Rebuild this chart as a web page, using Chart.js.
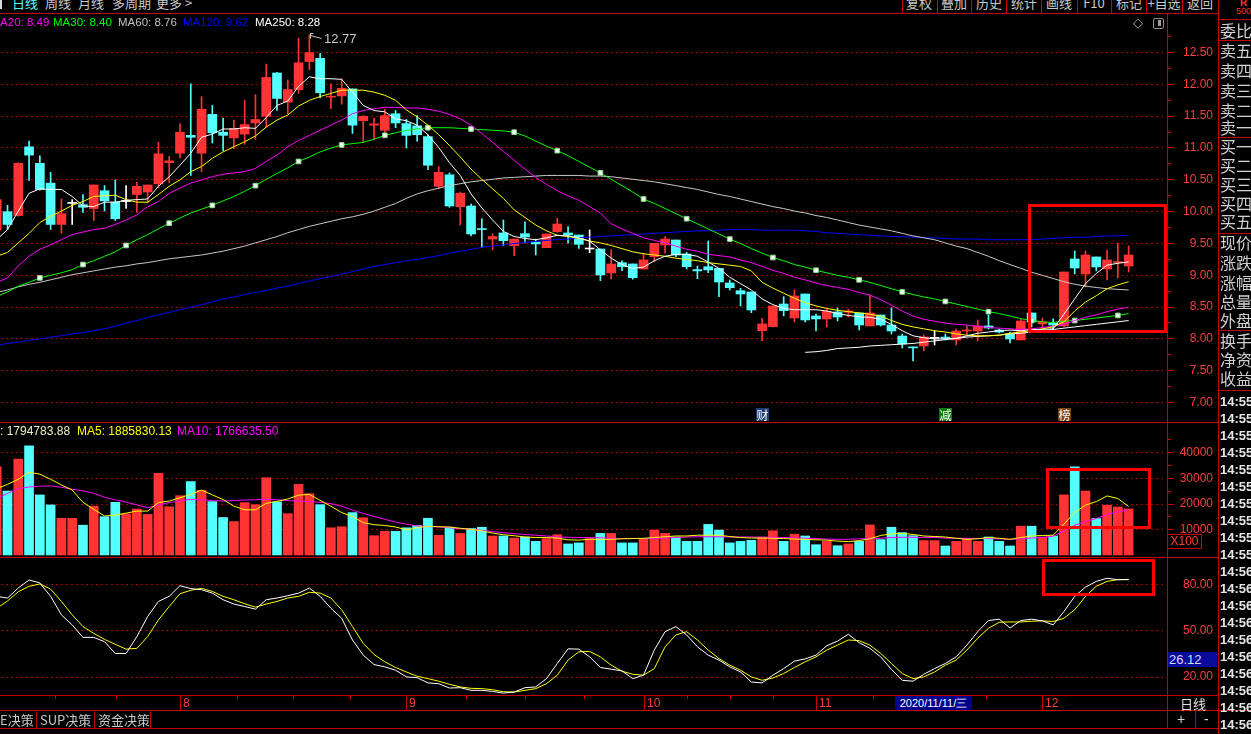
<!DOCTYPE html>
<html><head><meta charset="utf-8"><title>K线</title>
<script src="https://cdn.jsdelivr.net/npm/chart.js@4.4.1/dist/chart.umd.min.js"></script>
<style>
html,body{margin:0;padding:0;background:#000;}
body{width:1251px;height:734px;overflow:hidden;position:relative;font-family:"Liberation Sans",Arial,sans-serif;}
canvas{position:absolute;}
</style></head>
<body>
<canvas id="cPrice" width="1217" height="409" style="left:0;top:14px"></canvas>
<canvas id="cVol" width="1217" height="134" style="left:0;top:423px"></canvas>
<canvas id="cKdj" width="1217" height="154" style="left:0;top:557px"></canvas>
<script>
// ================= DATA (bar index i = 0..105) =================
const opens = [9.70,
 9.99,9.93,11.01,10.75,10.44,9.79,10.12,10.10,10.04,10.32,
 10.14,10.15,10.26,10.30,10.43,10.76,10.91,11.19,10.91,11.52,
 11.24,11.15,11.21,11.385,11.49,12.17,11.71,11.91,12.35,12.40,
 11.79,11.81,11.92,11.42,11.35,11.27,11.53,11.375,11.34,11.17,
 10.39,10.57,10.07,10.08,9.72,9.56,9.656,9.456,9.645,9.515,
 9.425,9.676,9.656,9.624,9.404,9.404,9.027,9.189,9.169,9.09,
 9.283,9.467,9.546,9.326,9.08,9.126,9.10,8.87,8.749,8.729,
 8.121,8.183,8.54,8.32,8.697,8.352,8.305,8.415,8.41,8.399,
 8.195,8.367,8.21,8.037,7.865,7.88,8.0,8.02,7.975,8.116,
 8.116,8.195,8.131,8.069,7.975,8.399,8.226,8.241,8.195,9.247,
 9.012,9.279,9.09,9.19,9.137];
const highs = [10.20,
 10.09,10.76,11.10,10.87,10.61,10.19,10.18,10.26,10.41,10.40,
 10.49,10.40,10.45,10.41,11.08,10.86,11.37,12.00,11.80,11.66,
 11.46,11.43,11.74,11.83,12.31,12.18,12.06,12.72,12.77,12.48,
 12.00,12.08,11.92,11.50,11.46,11.60,11.58,11.44,11.50,11.20,
 10.70,10.60,10.30,10.11,9.88,9.645,9.86,9.56,9.83,9.56,
 9.64,9.887,9.755,9.624,9.703,9.404,9.39,9.22,9.169,9.337,
 9.494,9.60,9.546,9.353,9.137,9.53,9.10,8.917,8.787,8.729,
 8.316,8.509,8.655,8.76,8.697,8.383,8.462,8.477,8.46,8.399,
 8.682,8.367,8.477,8.069,7.865,8.053,8.116,8.069,8.147,8.195,
 8.289,8.367,8.147,8.10,8.305,8.399,8.32,8.305,9.043,9.373,
 9.373,9.279,9.389,9.499,9.452];
const lows = [9.62,
 9.71,9.92,10.48,10.33,9.71,9.65,9.79,9.98,9.85,10.00,
 9.85,10.04,9.98,10.13,10.37,10.45,10.84,10.56,10.62,11.07,
 10.95,10.98,11.05,11.13,11.32,11.58,11.53,11.85,12.22,11.78,
 11.61,11.68,11.22,11.09,11.12,11.22,11.31,10.99,11.10,10.65,
 10.35,10.06,9.78,9.61,9.425,9.39,9.456,9.30,9.50,9.31,
 9.425,9.667,9.494,9.415,9.346,8.906,8.933,9.063,8.93,9.09,
 9.205,9.337,9.283,9.09,8.938,9.032,8.655,8.76,8.509,8.404,
 7.963,8.18,8.352,8.257,8.257,8.116,8.179,8.273,8.336,8.132,
 8.195,8.195,8.069,7.849,7.644,7.802,7.896,7.975,7.896,8.053,
 7.96,8.147,8.085,7.927,7.975,8.179,8.163,8.132,8.18,9.012,
 8.807,9.059,8.917,8.949,9.043];
const closes = [10.18,
 9.79,10.75,10.88,10.34,9.79,9.96,10.12,10.06,10.41,10.16,
 9.88,10.15,10.39,10.41,10.90,10.79,11.24,11.16,11.60,11.23,
 11.19,11.30,11.36,11.44,12.10,11.77,11.91,12.33,12.49,11.86,
 11.80,11.93,11.35,11.49,11.37,11.50,11.385,11.19,11.20,10.72,
 10.61,10.08,10.28,9.64,9.71,9.60,9.535,9.56,9.593,9.483,
 9.64,9.797,9.624,9.478,9.404,8.996,9.169,9.126,8.953,9.232,
 9.494,9.56,9.31,9.126,9.06,9.075,8.886,8.796,8.697,8.446,
 8.226,8.509,8.435,8.666,8.289,8.305,8.425,8.336,8.43,8.21,
 8.399,8.21,8.116,7.912,7.85,8.022,8.0,8.0,8.116,8.131,
 8.195,8.163,8.10,7.99,8.273,8.257,8.257,8.21,9.043,9.106,
 9.31,9.122,9.232,9.20,9.31];
const ma5 = [9.55,
 9.71,10.0,10.28,10.35,10.34,10.34,10.23,10.08,10.07,10.14,
 10.14,10.17,10.18,10.19,10.39,10.54,10.72,10.91,11.16,11.21,
 11.29,11.29,11.31,11.30,11.47,11.66,11.73,11.96,12.11,12.08,
 12.08,12.07,11.87,11.66,11.58,11.56,11.45,11.42,11.35,11.2,
 11.0,10.76,10.56,10.27,10.05,9.86,9.68,9.6,9.57,9.55,
 9.58,9.62,9.61,9.58,9.53,9.39,9.26,9.16,9.10,9.12,
 9.22,9.29,9.32,9.32,9.29,9.2,9.10,8.96,8.86,8.76,
 8.62,8.53,8.47,8.45,8.45,8.45,8.43,8.39,8.36,8.34,
 8.33,8.30,8.22,8.12,8.04,8.01,7.99,7.99,8.0,8.04,
 8.08,8.10,8.12,8.13,8.12,8.14,8.14,8.15,8.38,8.62,
 8.86,9.02,9.15,9.18,9.20];
const ma10 = [9.29,
 9.35,9.5,9.65,9.82,9.92,10.0,10.09,10.15,10.23,10.24,
 10.25,10.18,10.14,10.14,10.26,10.39,10.49,10.62,10.70,10.83,
 10.93,11.01,11.09,11.18,11.32,11.43,11.51,11.65,11.74,11.80,
 11.85,11.90,11.90,11.90,11.87,11.82,11.74,11.59,11.48,11.35,
 11.2,11.03,10.85,10.66,10.5,10.35,10.2,10.02,9.9,9.78,
 9.69,9.62,9.60,9.57,9.53,9.5,9.46,9.41,9.36,9.33,
 9.31,9.29,9.26,9.24,9.22,9.19,9.17,9.15,9.13,9.06,
 8.88,8.79,8.71,8.63,8.56,8.51,8.47,8.44,8.42,8.40,
 8.38,8.35,8.28,8.22,8.18,8.15,8.12,8.10,8.07,8.05,
 8.04,8.04,8.05,8.08,8.10,8.12,8.15,8.18,8.26,8.43,
 8.57,8.67,8.78,8.84,8.89];
const ma20 = [8.88,
 8.95,9.14,9.29,9.40,9.47,9.55,9.63,9.67,9.71,9.73,
 9.79,9.86,9.94,10.07,10.15,10.28,10.36,10.44,10.49,10.54,
 10.58,10.60,10.62,10.67,10.78,10.88,11.01,11.11,11.19,11.27,
 11.35,11.43,11.53,11.58,11.61,11.63,11.63,11.62,11.62,11.6,
 11.57,11.52,11.45,11.35,11.22,11.08,10.94,10.8,10.66,10.53,
 10.42,10.32,10.24,10.17,10.07,9.97,9.8,9.72,9.65,9.58,
 9.54,9.5,9.45,9.40,9.37,9.32,9.30,9.28,9.23,9.19,
 9.13,9.07,9.02,8.96,8.92,8.87,8.83,8.80,8.77,8.72,
 8.68,8.61,8.52,8.43,8.35,8.30,8.27,8.24,8.22,8.21,
 8.19,8.17,8.16,8.15,8.14,8.15,8.17,8.19,8.22,8.28,
 8.33,8.37,8.42,8.46,8.49];
const ma30 = [8.66,
 8.73,8.82,8.88,8.95,8.99,9.03,9.08,9.16,9.22,9.29,
 9.36,9.46,9.55,9.63,9.72,9.81,9.89,9.97,10.03,10.09,
 10.16,10.23,10.31,10.40,10.50,10.59,10.68,10.78,10.85,10.93,
 10.99,11.04,11.06,11.08,11.13,11.19,11.23,11.27,11.29,11.31,
 11.31,11.31,11.30,11.29,11.28,11.27,11.26,11.24,11.18,11.1,
 11.02,10.95,10.87,10.78,10.69,10.60,10.50,10.40,10.30,10.19,
 10.12,10.04,9.96,9.88,9.80,9.72,9.64,9.56,9.49,9.41,
 9.34,9.27,9.22,9.16,9.12,9.07,9.03,8.99,8.96,8.92,
 8.88,8.83,8.78,8.73,8.69,8.65,8.62,8.58,8.54,8.50,
 8.46,8.42,8.39,8.35,8.31,8.28,8.26,8.25,8.27,8.28,
 8.30,8.32,8.34,8.36,8.39];
const ma60 = [8.72,
 8.76,8.81,8.85,8.88,8.92,8.96,9.0,9.03,9.06,9.09,
 9.12,9.14,9.17,9.19,9.22,9.25,9.27,9.29,9.31,9.34,
 9.37,9.41,9.45,9.5,9.55,9.6,9.66,9.71,9.76,9.8,
 9.84,9.88,9.91,9.95,10.0,10.06,10.12,10.2,10.27,10.32,
 10.36,10.4,10.43,10.46,10.48,10.5,10.52,10.53,10.54,10.55,
 10.56,10.56,10.56,10.56,10.55,10.55,10.54,10.52,10.50,10.48,
 10.46,10.43,10.4,10.37,10.34,10.3,10.26,10.23,10.19,10.15,
 10.11,10.07,10.04,10.0,9.97,9.93,9.9,9.86,9.82,9.78,
 9.75,9.72,9.69,9.65,9.61,9.58,9.55,9.5,9.45,9.41,
 9.35,9.29,9.22,9.16,9.1,9.04,8.99,8.94,8.89,8.85,
 8.82,8.8,8.78,8.77,8.76];
const ma120 = [7.89,
 7.92,7.94,7.97,7.99,8.02,8.04,8.07,8.09,8.12,8.15,
 8.19,8.24,8.28,8.33,8.37,8.41,8.45,8.49,8.53,8.57,
 8.62,8.65,8.69,8.72,8.75,8.79,8.82,8.86,8.9,8.94,
 8.97,9.01,9.05,9.09,9.13,9.16,9.19,9.22,9.24,9.27,
 9.3,9.34,9.37,9.4,9.43,9.45,9.47,9.49,9.51,9.52,
 9.54,9.55,9.56,9.58,9.59,9.6,9.61,9.62,9.63,9.64,
 9.65,9.66,9.67,9.68,9.69,9.69,9.70,9.71,9.71,9.71,
 9.7,9.7,9.7,9.7,9.69,9.68,9.66,9.65,9.64,9.63,
 9.62,9.61,9.6,9.6,9.59,9.58,9.58,9.57,9.56,9.56,
 9.56,9.55,9.55,9.55,9.55,9.55,9.56,9.57,9.58,9.59,
 9.59,9.6,9.61,9.61,9.62];
const ma250 = Array(75).fill(null).concat([
 7.78,7.79,7.81,7.84,7.85,7.86,7.88,7.89,7.90,7.91,
 7.92,7.94,7.96,7.98,8.0,8.02,8.03,8.04,8.05,8.07,
 8.08,8.10,8.12,8.14,8.16,8.18,8.20,8.22,8.24,8.26,
 8.28]);
const volumes = [34300,
 24900,37400,42500,23400,19500,14300,14300,11600,19000,14900,
 20500,16000,17900,15800,31800,18800,23100,28600,25200,20800,
 14600,13000,20400,19600,30100,20700,16100,27500,23900,19600,
 10600,11000,16500,14500,7500,9200,9200,10600,11500,14300,
 7700,10800,8400,10300,10800,7400,7400,6600,7000,5300,
 6400,7900,4300,4700,6400,8400,8400,4700,4700,6400,
 9700,8400,7000,5300,5300,11900,9700,4700,5300,5700,
 7000,9400,5300,8100,7400,4000,5300,3600,4300,5300,
 11700,6000,10800,8700,7500,5600,5600,3500,5300,6500,
 5300,7000,5300,3500,11200,11200,7000,7400,23400,34300,
 24900,14200,19400,18700,17948];
const volMa5 = [25800,
 27500,29500,32200,31500,29500,27300,25300,20500,17800,15200,
 15500,16300,17100,17100,20400,21000,22300,23600,25300,23400,
 21600,19000,17600,17600,20100,20900,21800,23300,23600,21300,
 19000,16500,15000,12600,11800,11500,10900,9800,10600,11200,
 11000,10900,10400,10000,9400,8500,7900,7500,7000,6800,
 6800,6600,5900,5800,6100,6100,6100,6300,6400,6500,
 6800,7100,7400,7400,7700,7700,7700,7200,6800,6600,
 6600,6500,6400,6200,6100,5900,5800,5400,5200,5600,
 6300,7600,8200,8400,8000,7400,7200,7000,6500,6100,
 6300,6800,6500,6100,6800,7400,7600,7700,12000,16600,
 19400,20800,23000,22000,18858];
const volMa10 = [21900,
 24000,25800,26500,26800,26900,26400,25600,25000,24000,22500,
 21500,20600,19500,18400,19500,20400,21000,21700,21500,21200,
 21000,21200,21400,21500,21700,21500,21200,21000,20800,20500,
 20000,19000,17500,16200,15000,13900,12800,12000,11300,11100,
 10900,10600,10200,10000,9600,9100,8700,8300,8000,7700,
 7400,7000,6900,6800,6800,6700,6500,6400,6400,6400,
 6400,6600,6800,7000,7100,7100,7100,7000,7000,7000,
 6900,6900,6800,6700,6500,6400,6200,6100,6100,6300,
 6400,6500,6800,6900,6900,6800,6800,6600,6500,6500,
 6400,6400,6300,6100,6300,6600,6800,7300,9400,11600,
 13000,14200,15800,16800,17666];
const kdjK = [72,
 70.9,77.4,82.6,80.7,72,60,53.5,45.4,45.4,42.6,
 35,35,45.9,58.9,68.7,72,78.9,77,76.3,74.1,
 69.8,67,65.4,63.7,69.8,70.9,72.4,74.1,77.4,72,
 64.3,57.8,43.7,33.9,27.8,26.3,24.1,19.8,19.3,15.9,
 15.4,12.6,12.8,11.1,11.1,10.4,9.3,10,12.8,13.3,
 18.7,28.5,38,37.8,32.8,25.9,24.8,23.7,18.7,20.9,
 37.2,49.1,52.4,47,39.3,33.9,30.7,26.3,23,16.5,
 15.9,20.9,25.2,30,31.5,33.9,40,43,47.4,42,
 38.3,32.8,24.6,17.6,17,21.5,25.2,28.5,32.8,40.4,
 49.1,56.3,57.2,51.5,56.3,57.2,56.1,53.5,62.2,72,
 78,81.7,83.7,82.8,82.8];
const kdjD = [64.3,
 69,75,78.5,80,76.7,68.7,60,52.4,48,44.1,
 40.9,37.8,38.3,45.9,56.7,65.4,73.7,75.9,77.2,75.2,
 72,69.8,67.2,65,67,68.7,70.9,72,74.6,74.1,
 70.9,63.3,52.4,41.5,34.3,29.6,25.9,23,20.2,18.7,
 17,15,13.3,12.4,12.2,11.5,10.2,10,11.1,12.2,
 15.4,20.9,30.7,36.1,36.3,32.8,27.4,23.5,21.5,20.9,
 25.2,39.3,47,49.1,43.7,37.2,31.7,27.4,24.1,19.8,
 17.6,19.1,22,25.9,29.6,32.8,37.2,40.4,43.7,43.3,
 40.4,35,28.5,22,18.7,19.8,23,27.4,30.7,37.2,
 44.8,51.3,55.2,55.4,55.4,55.9,56.1,55.7,57.8,63.3,
 72,78.5,81.7,82.8,83];

const priceTicks = [12.5,12,11.5,11,10.5,10,9.5,9,8.5,8,7.5,7];
const priceTickLabels = ['12.50','12.00','11.50','11.00','10.50','10.00','9.50','9.00','8.50','8.00','7.50','7.00'];
const priceMinor = [12.75,12.25,11.75,11.25,10.75,10.25,9.75,9.25,8.75,8.25,7.75,7.25];
const volTicks = [40000,30000,20000,10000];
const volTickLabels = ['40000','30000','20000','10000'];
const volMinor = [45000,35000,25000,15000];
const kdjTicks = [80,50,20];
const kdjTickLabels = ['80.00','50.00','20.00'];
const monthLabels = ['8','9','10','11','12'];
const monthStartBars = [17,38,60,76,97];
const quarterTicks = [5.45,11.1,22.25,27.5,32.75,43.5,49,54.5,64,68,72,81.25,86.5,91.75];
const eventMarks = [{i:71,t:'财',bg:'#1c3f73'},{i:88,t:'减',bg:'#0b7a0b'},{i:99,t:'榜',bg:'#7a4511'}];
const priceBox = {i0:95.76,i1:108.4,p0:8.12,p1:10.1};
const volBox = {i0:97.4,i1:106.9,v0:10900,v1:33500};
const kdjBox = {i0:97.1,i1:107.3,v0:73.5,v1:95.5};

// ================= STYLE =================
const RED='#ff3333', CYAN='#54ffff', WHITE='#ffffff';
const AX='#c80000', LBL='#ff3c3c', GRID='#a00000';
const X_MIN=0.304, X_MAX=108.56;
const I = closes.map((_,i)=>i);
const P = a => a.map((v,i)=>({x:i,y:v}));
const candleCol = i => closes[i]>opens[i]?RED:(closes[i]<opens[i]?CYAN:WHITE);
const volCol = i => closes[i]>=opens[i]?RED:CYAN;

Chart.defaults.font.family='"Liberation Sans", Arial, sans-serif';

function opts(ymin,ymax,pb){
  return {responsive:false,animation:false,devicePixelRatio:1,events:[],
    layout:{padding:{left:0,right:50,top:0,bottom:pb||0}},
    plugins:{legend:{display:false},tooltip:{enabled:false}},
    datasets:{bar:{grouped:false}},
    scales:{x:{type:'linear',min:X_MIN,max:X_MAX,display:false,offset:false},
            y:{type:'linear',min:ymin,max:ymax,display:false}}};
}
function lineDS(arr,col,extra){
  return Object.assign({type:'line',data:P(arr),borderColor:col,borderWidth:1,pointRadius:0,
    tension:0,spanGaps:false,fill:false,order:1},extra||{});
}
function dotted(ch,vals){
  const c=ch.ctx, ys=ch.scales.y; c.save(); c.fillStyle=GRID;
  vals.forEach(v=>{const y=Math.round(ys.getPixelForValue(v));
    for(let x=1;x<1165;x+=5) c.fillRect(x,y,2,1);});
  c.restore();
}
function axisLabels(ch,vals,labels,minor,major){
  const c=ch.ctx, ys=ch.scales.y; c.save(); c.fillStyle=AX;
  if(major){vals.forEach(v=>c.fillRect(1168,Math.round(ys.getPixelForValue(v)),6,1));
    (minor||[]).forEach(v=>c.fillRect(1168,Math.round(ys.getPixelForValue(v)),3,1));}
  c.fillStyle=LBL; c.font='12px "Liberation Sans"'; c.textAlign='right'; c.textBaseline='middle';
  vals.forEach((v,j)=>c.fillText(labels[j],1213,ys.getPixelForValue(v)+0.5));
  c.restore();
}
function boxOn(ch,b0,b1,v0,v1){
  const c=ch.ctx, xs=ch.scales.x, ys=ch.scales.y;
  const x0=xs.getPixelForValue(b0), x1=xs.getPixelForValue(b1);
  const y0=ys.getPixelForValue(v1), y1=ys.getPixelForValue(v0);
  c.save(); c.strokeStyle='#ff0000'; c.lineWidth=3;
  c.strokeRect(Math.round(x0)+0.5,Math.round(y0)+0.5,Math.round(x1-x0),Math.round(y1-y0)); c.restore();
}

const pricePlugin={id:'pp',
  beforeDatasetsDraw(ch){dotted(ch,priceTicks);},
  afterDraw(ch){
    const c=ch.ctx, xs=ch.scales.x, ys=ch.scales.y;
    axisLabels(ch,priceTicks,priceTickLabels,priceMinor,true);
    const hi=Math.max(...highs), hiIdx=highs.indexOf(hi);
    const hx=Math.round(xs.getPixelForValue(hiIdx)), hy=Math.round(ys.getPixelForValue(hi));
    c.save(); c.strokeStyle='#c8c8c8'; c.lineWidth=1;
    c.beginPath(); c.moveTo(hx+1.5,hy+0.5); c.lineTo(hx+12.5,hy+3.5); c.stroke();
    c.beginPath(); c.moveTo(hx+1.5,hy+3.5); c.lineTo(hx+1.5,hy-1.5); c.lineTo(hx+4.5,hy-1.5); c.stroke();
    c.fillStyle='#c8c8c8'; c.font='13px "Liberation Sans"'; c.textBaseline='middle'; c.textAlign='left';
    c.fillText(hi.toFixed(2),hx+15,hy+4.5);
    c.font='12px "Noto Sans CJK SC"'; c.textAlign='center';
    eventMarks.forEach(m=>{const x=Math.round(xs.getPixelForValue(m.i));
      c.fillStyle=m.bg; c.fillRect(x-6,394,13,13);
      c.fillStyle='#ffffff'; c.fillText(m.t,x+0.5,401);});
    c.restore();
    boxOn(ch,priceBox.i0,priceBox.i1,priceBox.p0,priceBox.p1);
  }};
const volPlugin={id:'vp',
  beforeDatasetsDraw(ch){dotted(ch,volTicks);},
  afterDraw(ch){axisLabels(ch,volTicks,volTickLabels,volMinor,true);
    boxOn(ch,volBox.i0,volBox.i1,volBox.v0,volBox.v1);}};
const kdjPlugin={id:'kp',
  beforeDatasetsDraw(ch){dotted(ch,kdjTicks);},
  afterDraw(ch){
    axisLabels(ch,kdjTicks,kdjTickLabels,null,false);
    boxOn(ch,kdjBox.i0,kdjBox.i1,kdjBox.v0,kdjBox.v1);
    const c=ch.ctx, xs=ch.scales.x, b=ch.chartArea.bottom;
    c.save(); c.fillStyle=AX;
    quarterTicks.forEach(i=>c.fillRect(Math.round(xs.getPixelForValue(i)),b,1,4));
    c.font='12px "Liberation Sans"'; c.textBaseline='middle'; c.textAlign='left';
    monthStartBars.forEach((i,j)=>{const x=Math.round(xs.getPixelForValue(i));
      c.fillStyle=AX; c.fillRect(x,b,1,16);
      c.fillStyle=LBL; c.fillText(monthLabels[j],x+3,b+8.5);});
    c.restore();
  }};

new Chart(document.getElementById('cPrice'),{type:'bar',
  data:{datasets:[
    lineDS(ma5,'#ffffff'), lineDS(ma10,'#ffff00'), lineDS(ma20,'#ff00ff'),
    lineDS(ma30,'#00ff00',{pointStyle:'rect',pointRadius:c=>(c.dataIndex>0&&c.dataIndex%4===0)?3.3:0,
      pointBackgroundColor:'#f4fff4',pointBorderColor:'#8fd08f',pointBorderWidth:1}),
    lineDS(ma60,'#c8c8c8'), lineDS(ma120,'#0000ff'), lineDS(ma250,'#ffffff'),
    {type:'bar',data:I.map(i=>({x:i,y:[opens[i],closes[i]]})),backgroundColor:I.map(candleCol),
      barThickness:9,minBarLength:1,grouped:false,order:5},
    {type:'bar',data:I.map(i=>({x:i,y:[lows[i],highs[i]]})),backgroundColor:I.map(candleCol),
      barThickness:1,grouped:false,order:6}]},
  options:opts(6.6699,13.0971,0),plugins:[pricePlugin]});

new Chart(document.getElementById('cVol'),{type:'bar',
  data:{datasets:[
    lineDS(volMa5,'#ffff00'), lineDS(volMa10,'#ff00ff'),
    {type:'bar',data:I.map(i=>({x:i,y:volumes[i]})),backgroundColor:I.map(volCol),
      barThickness:9,grouped:false,order:5}]},
  options:opts(-791,51416,0),plugins:[volPlugin]});

new Chart(document.getElementById('cKdj'),{type:'line',
  data:{datasets:[lineDS(kdjK,'#ffffff'), lineDS(kdjD,'#ffff00')]},
  options:opts(8.07,97.49,16),plugins:[kdjPlugin]});

// ================= DOM chrome =================
function mk(css,txt){const e=document.createElement('div');e.style.cssText='position:absolute;white-space:nowrap;'+css;
  if(txt!=null)e.textContent=txt;document.body.appendChild(e);return e;}
const CN='font-family:"Noto Sans CJK SC",sans-serif;';
function T(txt,x,y,size,color,extra){return mk(`left:${x}px;top:${y}px;font-size:${size}px;line-height:${size}px;color:${color};${extra||''}`,txt);}
function HL(x,y,w,col){mk(`left:${x}px;top:${y}px;width:${w}px;height:1px;background:${col||AX}`);}
function VL(x,y,h,col){mk(`left:${x}px;top:${y}px;width:1px;height:${h}px;background:${col||AX}`);}

// top toolbar
mk('left:0;top:0;width:2px;height:9px;background:#d8d8d8');
T('日线',12,-4,13,'#54ffff',CN);
[['周线',45],['月线',78],['多周期',112],['更多 >',156]].forEach(a=>T(a[0],a[1],-4,13,'#c8c8c8',CN));
const tb=[['复权',919],['叠加',954],['历史',989],['统计',1024],['画线',1059],['F10',1094],['标记',1129],['+自选',1164],['返回',1200]];
tb.forEach(a=>T(a[0],a[1]-20,-4,13,'#c8c8c8',CN+'width:40px;text-align:center;'));
[902,937,971,1006,1041,1077,1111,1146,1182].forEach(x=>VL(x,0,13));
HL(0,13,1218);
T('R',1240,-2,10,'#ff3030','font-weight:bold;');
T('500',1236,7,9,'#ff3030');

// MA header
[['MA20: 8.49',-9.5,'#ff00ff'],['MA30: 8.40',53,'#00ff00'],['MA60: 8.76',118,'#c0c0c0'],
 ['MA120: 9.62',183,'#0000ff'],['MA250: 8.28',255,'#ffffff']].forEach(a=>T(a[0],a[1],17,11.5,a[2]));
T('◇',1133,16,13,'#b0b0b0');
mk('left:1153px;top:18px;width:9px;height:9px;border:1px solid #909090;border-radius:2px');
mk('left:1158px;top:20px;width:3px;height:6px;background:#a0a0a0');

// volume header
T(': 1794783.88',0,425,12,'#eeeec0');
T('MA5: 1885830.13',77,425,12,'#ffff00');
T('MA10: 1766635.50',177,425,12,'#ff00ff');

// panel separators
HL(0,422,1218); HL(0,557,1218); HL(0,695,1218); HL(0,710,1251); HL(0,728,1218);
VL(1167,13,715); VL(1218,0,734);
mk(`left:1167px;top:534px;width:33px;height:13px;border:1px solid ${AX};color:${LBL};font-size:12px;line-height:13px;text-align:center`,'X100');
mk('left:1168px;top:652px;width:49px;height:15px;background:#0a0a9c;color:#d8d8ff;font-size:13px;line-height:15px;padding-left:1px;box-sizing:border-box','26.12');
mk('left:895px;top:696px;width:77px;height:14px;background:#00008c;color:#ffffff;font-size:11px;line-height:14px;text-align:center','2020/11/11/三');
T('日线',1180,697,13,'#e0e0e0',CN);
T('E决策',0,713,13,'#c8c8c8',CN); T('SUP决策',40,713,13,'#c8c8c8',CN); T('资金决策',98,713,13,'#c8c8c8',CN);
[36,94,150].forEach(x=>VL(x,711,17));
T('+',1177,712,14,'#d0d0d0'); T('-',1204,712,14,'#d0d0d0'); VL(1195,711,17);

// right info panel
const panelRows=[['委比',31],['卖五',51],['卖四',71],['卖三',91],['卖二',111],['卖一',128],
 ['买一',147],['买二',166],['买三',185],['买四',204],['买五',222],
 ['现价',243],['涨跌',263],['涨幅',283],['总量',302],['外盘',321],
 ['换手',341],['净资',360],['收益',379]];
panelRows.forEach(r=>T(r[0],1220,r[1]-9,16,'#d0d0d0',CN));
[19,40,137,233,330,390].forEach(y=>HL(1218,y,33));
for(let j=0;j<20;j++){T(j<10?'14:55':'14:56',1220,395+j*17,13,'#e6e6e6','font-weight:bold;');}
</script>
</body></html>
